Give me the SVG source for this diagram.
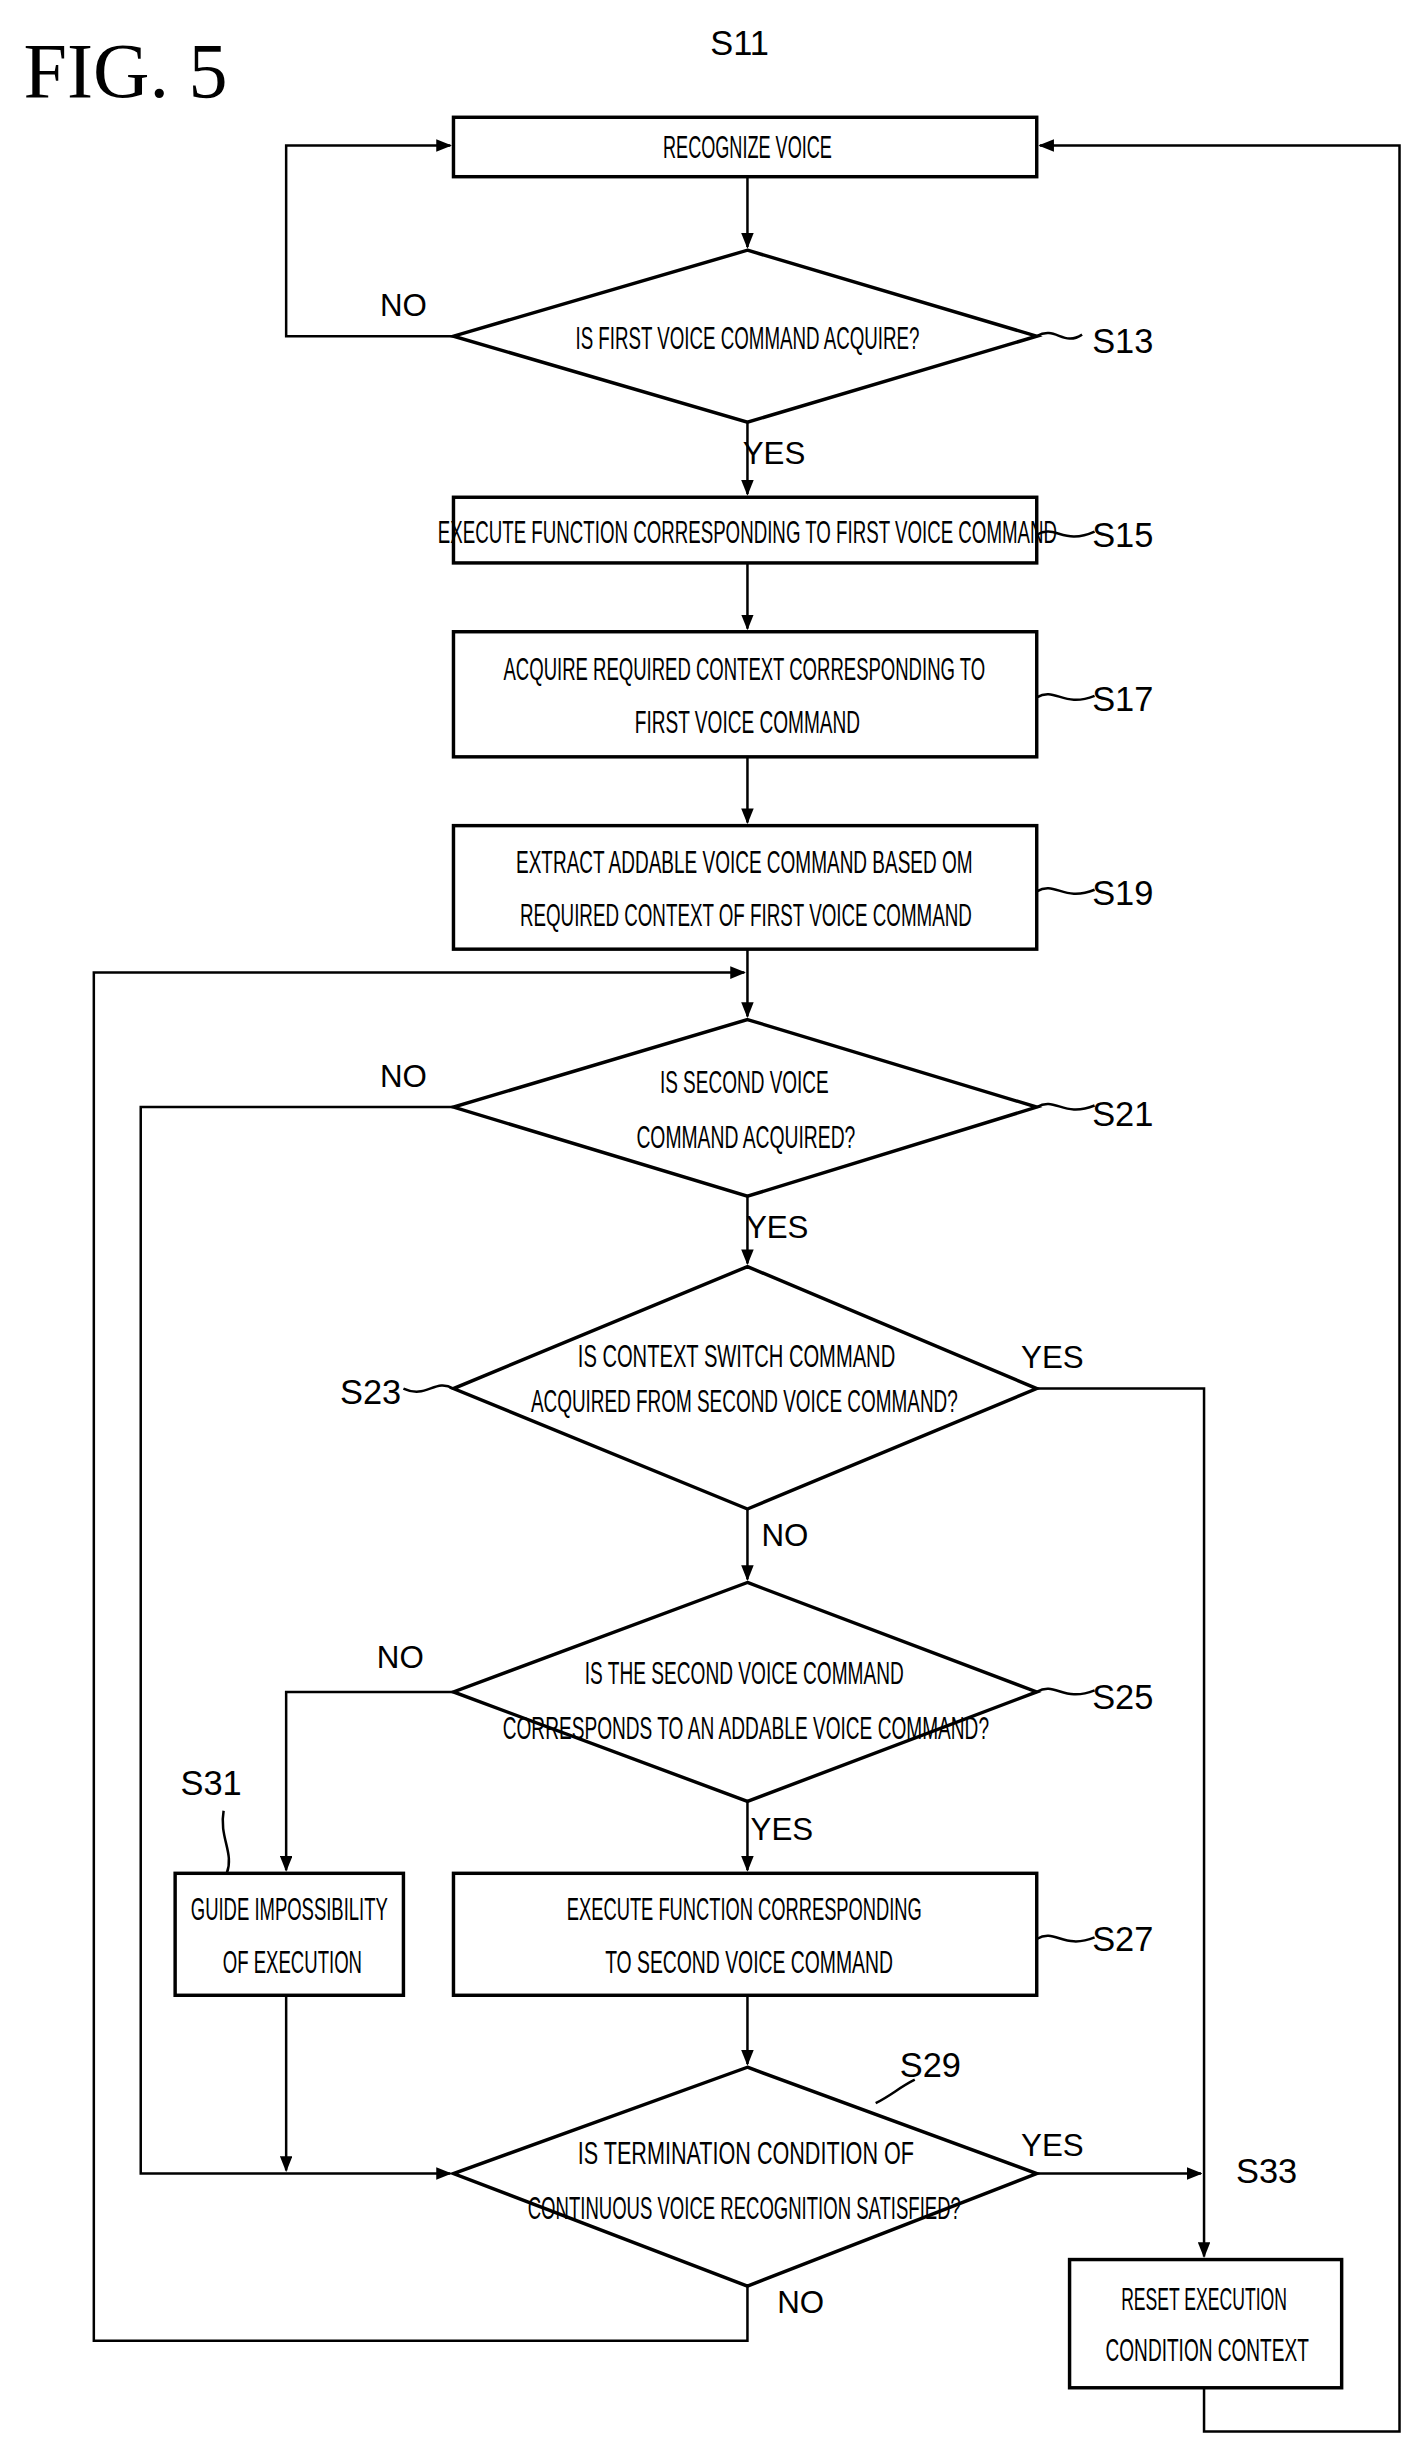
<svg xmlns="http://www.w3.org/2000/svg" width="1423" height="2453" viewBox="0 0 1423 2453">
<style>
.b{fill:none;stroke:#000;stroke-width:2.2}
.l{fill:none;stroke:#000;stroke-width:1.6}
text{font-family:"Liberation Sans",Arial,sans-serif;font-size:20px;fill:#000;text-anchor:middle}
.lab{font-size:22px}
.fig{font-family:"Liberation Serif","Times New Roman",serif;font-size:50px;text-anchor:start}
</style>
<defs><marker id="a" markerWidth="10" markerHeight="8" refX="9" refY="4" orient="auto" markerUnits="userSpaceOnUse"><path d="M0,0L10,4L0,8z" fill="#000"/></marker></defs>
<rect width="1423" height="2453" fill="#fff"/>
<g transform="scale(1.5637)">
<text class="fig" x="15" y="62">FIG. 5</text>
<g id="connectors">
<path class="l" d="M478,113V158" marker-end="url(#a)"/>
<path class="l" d="M290,215H183V93H288" marker-end="url(#a)"/>
<path class="l" d="M478,270V316" marker-end="url(#a)"/>
<path class="l" d="M478,360V402" marker-end="url(#a)"/>
<path class="l" d="M478,484V526" marker-end="url(#a)"/>
<path class="l" d="M478,607V650" marker-end="url(#a)"/>
<path class="l" d="M478,1462V1497H60V622H476" marker-end="url(#a)"/>
<path class="l" d="M290,708H90V1390H288" marker-end="url(#a)"/>
<path class="l" d="M478,765V808" marker-end="url(#a)"/>
<path class="l" d="M663,888H770V1443" marker-end="url(#a)"/>
<path class="l" d="M478,965V1010" marker-end="url(#a)"/>
<path class="l" d="M290,1082H183V1196" marker-end="url(#a)"/>
<path class="l" d="M478,1152V1196" marker-end="url(#a)"/>
<path class="l" d="M478,1276V1320" marker-end="url(#a)"/>
<path class="l" d="M183,1276V1388" marker-end="url(#a)"/>
<path class="l" d="M663,1390H768" marker-end="url(#a)"/>
<path class="l" d="M770,1527V1555H895V93H665" marker-end="url(#a)"/>
<path class="l" d="M663,215C675,208 680,222 692,214"/>
<path class="l" d="M663,342C675,335 680,349 700,340"/>
<path class="l" d="M663,446C675,439 680,453 700,445"/>
<path class="l" d="M663,570C675,563 680,577 700,569"/>
<path class="l" d="M663,708C675,701 680,715 700,707"/>
<path class="l" d="M290,888C278,881 273,895 258,888"/>
<path class="l" d="M663,1082C675,1075 680,1089 700,1081"/>
<path class="l" d="M663,1240C675,1233 680,1247 700,1239"/>
<path class="l" d="M143,1158C140,1175 150,1185 145,1198"/>
<path class="l" d="M585,1330C575,1335 570,1340 560,1345"/>
</g>
<g id="S11"><rect class="b" x="290" y="75" width="373" height="38"/><text x="478" y="101" textLength="108" lengthAdjust="spacingAndGlyphs">RECOGNIZE VOICE</text><text class="lab" x="473" y="35">S11</text></g>
<g id="S13"><path class="b" d="M478,160L663,215L478,270L290,215Z"/><text x="478" y="223" textLength="220" lengthAdjust="spacingAndGlyphs">IS FIRST VOICE COMMAND ACQUIRE?</text><text class="lab" x="718" y="226">S13</text><text x="258" y="202">NO</text><text x="495" y="297">YES</text></g>
<g id="S15"><rect class="b" x="290" y="318" width="373" height="42"/><text x="478" y="347" textLength="396" lengthAdjust="spacingAndGlyphs">EXECUTE FUNCTION CORRESPONDING TO FIRST VOICE COMMAND</text><text class="lab" x="718" y="350">S15</text></g>
<g id="S17"><rect class="b" x="290" y="404" width="373" height="80"/><text x="476" y="435" textLength="308" lengthAdjust="spacingAndGlyphs">ACQUIRE REQUIRED CONTEXT CORRESPONDING TO</text><text x="478" y="469" textLength="144" lengthAdjust="spacingAndGlyphs">FIRST VOICE COMMAND</text><text class="lab" x="718" y="455">S17</text></g>
<g id="S19"><rect class="b" x="290" y="528" width="373" height="79"/><text x="476" y="558" textLength="292" lengthAdjust="spacingAndGlyphs">EXTRACT ADDABLE VOICE COMMAND BASED OM</text><text x="477" y="592" textLength="289" lengthAdjust="spacingAndGlyphs">REQUIRED CONTEXT OF FIRST VOICE COMMAND</text><text class="lab" x="718" y="579">S19</text></g>
<g id="S21"><path class="b" d="M478,652L663,708L478,765L290,708Z"/><text x="476" y="699" textLength="108" lengthAdjust="spacingAndGlyphs">IS SECOND VOICE</text><text x="477" y="734" textLength="140" lengthAdjust="spacingAndGlyphs">COMMAND ACQUIRED?</text><text class="lab" x="718" y="720">S21</text><text x="258" y="695">NO</text><text x="497" y="792">YES</text></g>
<g id="S23"><path class="b" d="M478,810L663,888L478,965L290,888Z"/><text x="471" y="874" textLength="203" lengthAdjust="spacingAndGlyphs">IS CONTEXT SWITCH COMMAND</text><text x="476" y="903" textLength="273" lengthAdjust="spacingAndGlyphs">ACQUIRED FROM SECOND VOICE COMMAND?</text><text class="lab" x="237" y="898">S23</text><text x="673" y="875">YES</text><text x="502" y="989">NO</text></g>
<g id="S25"><path class="b" d="M478,1012L663,1082L478,1152L290,1082Z"/><text x="476" y="1077" textLength="204" lengthAdjust="spacingAndGlyphs">IS THE SECOND VOICE COMMAND</text><text x="477" y="1112" textLength="311" lengthAdjust="spacingAndGlyphs">CORRESPONDS TO AN ADDABLE VOICE COMMAND?</text><text class="lab" x="718" y="1093">S25</text><text x="256" y="1067">NO</text><text x="500" y="1177">YES</text></g>
<g id="S27"><rect class="b" x="290" y="1198" width="373" height="78"/><text x="476" y="1228" textLength="227" lengthAdjust="spacingAndGlyphs">EXECUTE FUNCTION CORRESPONDING</text><text x="479" y="1262" textLength="184" lengthAdjust="spacingAndGlyphs">TO SECOND VOICE COMMAND</text><text class="lab" x="718" y="1248">S27</text></g>
<g id="S31"><rect class="b" x="112" y="1198" width="146" height="78"/><text x="185" y="1228" textLength="126" lengthAdjust="spacingAndGlyphs">GUIDE IMPOSSIBILITY</text><text x="187" y="1262" textLength="89" lengthAdjust="spacingAndGlyphs">OF EXECUTION</text><text class="lab" x="135" y="1148">S31</text></g>
<g id="S29"><path class="b" d="M478,1322L663,1390L478,1462L290,1390Z"/><text x="477" y="1384" textLength="215" lengthAdjust="spacingAndGlyphs">IS TERMINATION CONDITION OF</text><text x="476" y="1419" textLength="277" lengthAdjust="spacingAndGlyphs">CONTINUOUS VOICE RECOGNITION SATISFIED?</text><text class="lab" x="595" y="1328">S29</text><text x="673" y="1379">YES</text><text x="512" y="1479">NO</text></g>
<g id="S33"><rect class="b" x="684" y="1445" width="174" height="82"/><text x="770" y="1477" textLength="106" lengthAdjust="spacingAndGlyphs">RESET EXECUTION</text><text x="772" y="1510" textLength="130" lengthAdjust="spacingAndGlyphs">CONDITION CONTEXT</text><text class="lab" x="810" y="1396">S33</text></g>
</g>
</svg>
